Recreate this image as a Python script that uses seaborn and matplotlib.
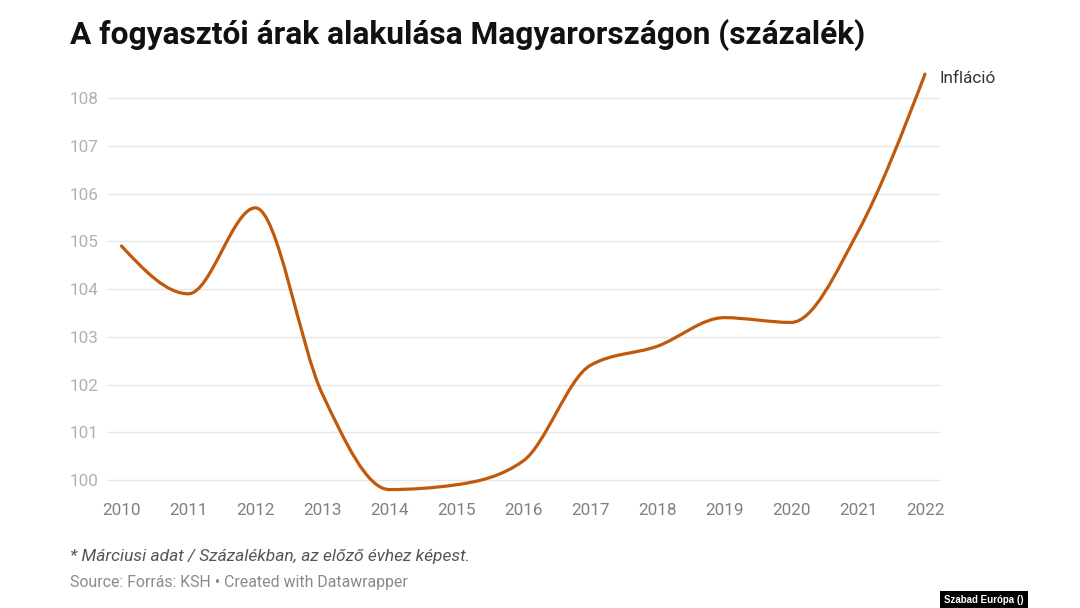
import numpy as np
import matplotlib
matplotlib.use("Agg")
import matplotlib.pyplot as plt
from matplotlib.path import Path
from matplotlib.patches import PathPatch
import seaborn as sns

# Consumer price index, previous year = 100
years = [2010, 2011, 2012, 2013, 2014, 2015, 2016, 2017, 2018, 2019, 2020, 2021, 2022]
inflation = [104.9, 103.9, 105.7, 101.8, 99.8, 99.9, 100.4, 102.4, 102.8, 103.4, 103.3, 105.2, 108.5]
y_ticks = [100, 101, 102, 103, 104, 105, 106, 107, 108]
series_label = "Infláció"

title = "A fogyasztói árak alakulása Magyarországon (százalék)"
note = "* Márciusi adat / Százalékban, az előző évhez képest."
source = "Source: Forrás: KSH • Created with Datawrapper"
badge = "Szabad Európa ()"

LINE_COLOR = "#c0590c"


def monotone_path(x, y):
    """Bezier path like d3.curveMonotoneX through the data points."""
    x = np.asarray(x, float)
    y = np.asarray(y, float)
    h = np.diff(x)
    s = np.diff(y) / h
    t = np.zeros_like(y)
    for i in range(1, len(y) - 1):
        p = (s[i - 1] * h[i] + s[i] * h[i - 1]) / (h[i - 1] + h[i])
        t[i] = (np.sign(s[i - 1]) + np.sign(s[i])) * min(abs(s[i - 1]), abs(s[i]), 0.5 * abs(p))
    t[0] = (3 * s[0] - t[1]) / 2
    t[-1] = (3 * s[-1] - t[-2]) / 2
    verts = [(x[0], y[0])]
    codes = [Path.MOVETO]
    for i in range(len(x) - 1):
        dx = h[i] / 3
        verts += [(x[i] + dx, y[i] + dx * t[i]),
                  (x[i + 1] - dx, y[i + 1] - dx * t[i + 1]),
                  (x[i + 1], y[i + 1])]
        codes += [Path.CURVE4] * 3
    return Path(verts, codes)


sns.set_theme(style="white")
plt.rcParams["font.family"] = ["Roboto", "DejaVu Sans"]

fig = plt.figure(figsize=(10.8, 6.08), dpi=100)
W, H = 1080, 608
ax = fig.add_axes([108 / W, 1 - 495 / H, (940 - 108) / W, (495 - 73) / H])

ax.set_xlim(2009.7985, 2022.224)
ax.set_ylim(99.686, 108.524)

ax.set_yticks(y_ticks)
ax.set_xticks(years)
ax.grid(axis="y", color="#e6e6e6", linewidth=1.0)
ax.grid(axis="x", visible=False)
ax.tick_params(axis="y", length=0, pad=7, labelsize=12.3, labelcolor="#b0b0b0")
ax.tick_params(axis="x", length=0, pad=6, labelsize=12.3, labelcolor="#808080")
sns.despine(ax=ax, left=True, bottom=True)

patch = PathPatch(monotone_path(years, inflation), facecolor="none",
                  edgecolor=LINE_COLOR, linewidth=2.3, capstyle="round",
                  joinstyle="round", clip_on=False, zorder=3)
ax.add_patch(patch)

ax.annotate(series_label, xy=(years[-1], inflation[-1]), xytext=(10.5, -3),
            textcoords="offset points", ha="left", va="center",
            fontsize=12.3, color="#333333", annotation_clip=False)

fig.text(70 / W, 1 - 35 / H, title, ha="left", va="center",
         fontsize=22.8, fontweight="bold", color="#111111")
fig.text(70 / W, 1 - 557 / H, note, ha="left", va="center",
         fontsize=12.5, style="italic", color="#555555")
fig.text(70 / W, 1 - 583 / H, source, ha="left", va="center",
         fontsize=11.4, color="#8a8a8a")
fig.text(984 / W, 1 - 600 / H, badge, ha="center", va="center",
         fontsize=7, fontweight="bold", color="white",
         family=["Liberation Sans", "DejaVu Sans"],
         bbox=dict(boxstyle="square,pad=0.45", facecolor="black", edgecolor="none"))

fig.savefig("out.png", dpi=100, facecolor="white")
